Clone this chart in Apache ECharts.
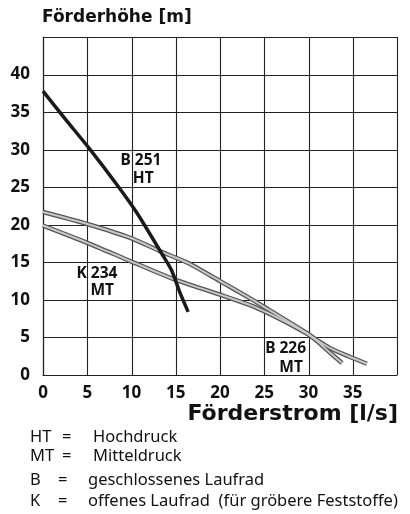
<!DOCTYPE html>
<html>
<head>
<meta charset="utf-8">
<style>html,body{margin:0;padding:0;background:#fff}#c{width:410px;height:514px}</style>
<script src="https://cdn.jsdelivr.net/npm/echarts@6/dist/echarts.min.js"></script>
</head>
<body>
<div id="c"></div>
<script>
// Data (Förderstrom [l/s], Förderhöhe [m])
var b251HT = [[0,37.8],[2.5,34.1],[5.2,30.2],[8.5,25.1],[10.6,21.6],[13.4,16.2],[14.5,14.0],[15.5,10.9],[16.4,8.4]];
var b226MT = [[0,21.7],[5,20.1],[10,18.2],[13.2,16.5],[16.4,14.9],[20,12.5],[23.4,10.2],[25.5,8.7],[28,6.9],[29.8,5.6],[31,4.5],[32.4,3.0],[33.8,1.6]];
var k234MT = [[0,19.9],[5,17.6],[10,15.1],[14.7,12.8],[20,10.7],[23.4,9.3],[25.5,8.2],[28,6.7],[29.8,5.5],[31,4.6],[32.4,3.6],[34.5,2.5],[36.6,1.5]];
var xTicks = [0,5,10,15,20,25,30,35];
var yTicks = [0,5,10,15,20,25,30,35,40];
var xGrid = [0,5,10,15,20,25,30,35,40];
var yGrid = [0,5,10,15,20,25,30,35,40,45];
var labelTexts = ['B 251','HT','K 234','MT','B 226','MT'];
var labelPos = [[8.76,28.5],[10.15,26.1],[3.78,13.5],[5.36,11.2],[25.1,3.47],[26.7,1.03]];
var legendKeys = ['HT','MT','B','K'];
var legendText = ['Hochdruck','Mitteldruck','geschlossenes Laufrad','offenes Laufrad  (für gröbere Feststoffe)'];

var chart = echarts.init(document.getElementById('c'));
var grid = {left:43, right:13, top:37, bottom:139};
function grayLine(name, data){
  return [
    {type:'line', name:name, data:data, smooth:0.25, symbol:'none', lineStyle:{color:'#555', width:4.5}, z:3},
    {type:'line', name:name+'_in', data:data, smooth:0.25, symbol:'none', lineStyle:{color:'#c8c8c8', width:2}, z:4}
  ];
}
var option = {
  animation:false,
  backgroundColor:'#fff',
  grid:grid,
  xAxis:{type:'value', min:0, max:40, interval:5,
    axisLine:{show:true, onZero:false, lineStyle:{color:'#222', width:1.2}},
    axisTick:{show:false},
    splitLine:{show:false},
    axisLabel:{margin:10, color:'#111', fontFamily:'Noto Sans', fontWeight:'bold', fontSize:17,
      formatter:function(v){return xTicks.indexOf(v)>=0 ? String(v) : '';}}
  },
  yAxis:{type:'value', min:0, max:45, interval:5,
    axisLine:{show:true, lineStyle:{color:'#222', width:1.2}},
    axisTick:{show:false},
    splitLine:{show:false},
    axisLabel:{margin:13, color:'#111', fontFamily:'Noto Sans', fontWeight:'bold', fontSize:17,
      formatter:function(v){return yTicks.indexOf(v)>=0 ? String(v) : '';}}
  },
  series:[].concat(
    grayLine('B 226 MT', b226MT),
    grayLine('K 234 MT', k234MT),
    [{type:'line', name:'B 251 HT', data:b251HT, smooth:0.25, symbol:'none', lineStyle:{color:'#1a1a1a', width:3.5}, z:5}]
  )
};
chart.setOption(option);

var g = [];
// grid lines through the axis scales
for (var a=0;a<xGrid.length;a++){
  var p0 = chart.convertToPixel({gridIndex:0}, [xGrid[a], 0]);
  var p1 = chart.convertToPixel({gridIndex:0}, [xGrid[a], 45]);
  g.push({type:'line', shape:{x1:Math.round(p0[0])+0.5, y1:p0[1], x2:Math.round(p1[0])+0.5, y2:p1[1]},
    style:{stroke:'#222', lineWidth:1.1}, z:1, silent:true});
}
for (var b=0;b<yGrid.length;b++){
  var q0 = chart.convertToPixel({gridIndex:0}, [0, yGrid[b]]);
  var q1 = chart.convertToPixel({gridIndex:0}, [40, yGrid[b]]);
  g.push({type:'line', shape:{x1:q0[0], y1:Math.round(q0[1])+0.5, x2:q1[0], y2:Math.round(q1[1])+0.5},
    style:{stroke:'#222', lineWidth:1.1}, z:1, silent:true});
}
g.push({type:'text', left:42, top:9, style:{text:'Förderhöhe [m]', font:'bold 17px "DejaVu Sans"', fill:'#111'}});
g.push({type:'text', right:12, top:403, style:{text:'Förderstrom [l/s]', font:'bold 22px "DejaVu Sans"', fill:'#111'}});
for (var i=0;i<labelTexts.length;i++){
  var p = chart.convertToPixel({gridIndex:0}, labelPos[i]);
  g.push({type:'text', x:p[0], y:p[1], z:20,
    style:{text:labelTexts[i], font:'bold 15.5px "Noto Sans"', fill:'#111', textVerticalAlign:'middle', textAlign:'left'}});
}
var ly = [437, 456.5, 480, 501.5];
var eqX = [62, 62, 58, 58];
var txX = [93, 93, 88, 88];
for (var j=0;j<legendKeys.length;j++){
  g.push({type:'text', x:30, y:ly[j], style:{text:legendKeys[j], font:'16.5px "Noto Sans"', fill:'#111', textVerticalAlign:'middle'}});
  g.push({type:'text', x:eqX[j], y:ly[j], style:{text:'=', font:'16.5px "Noto Sans"', fill:'#111', textVerticalAlign:'middle'}});
  g.push({type:'text', x:txX[j], y:ly[j], style:{text:legendText[j], font:'16.5px "Noto Sans"', fill:'#111', textVerticalAlign:'middle'}});
}
chart.setOption({graphic:g});
</script>
</body>
</html>
